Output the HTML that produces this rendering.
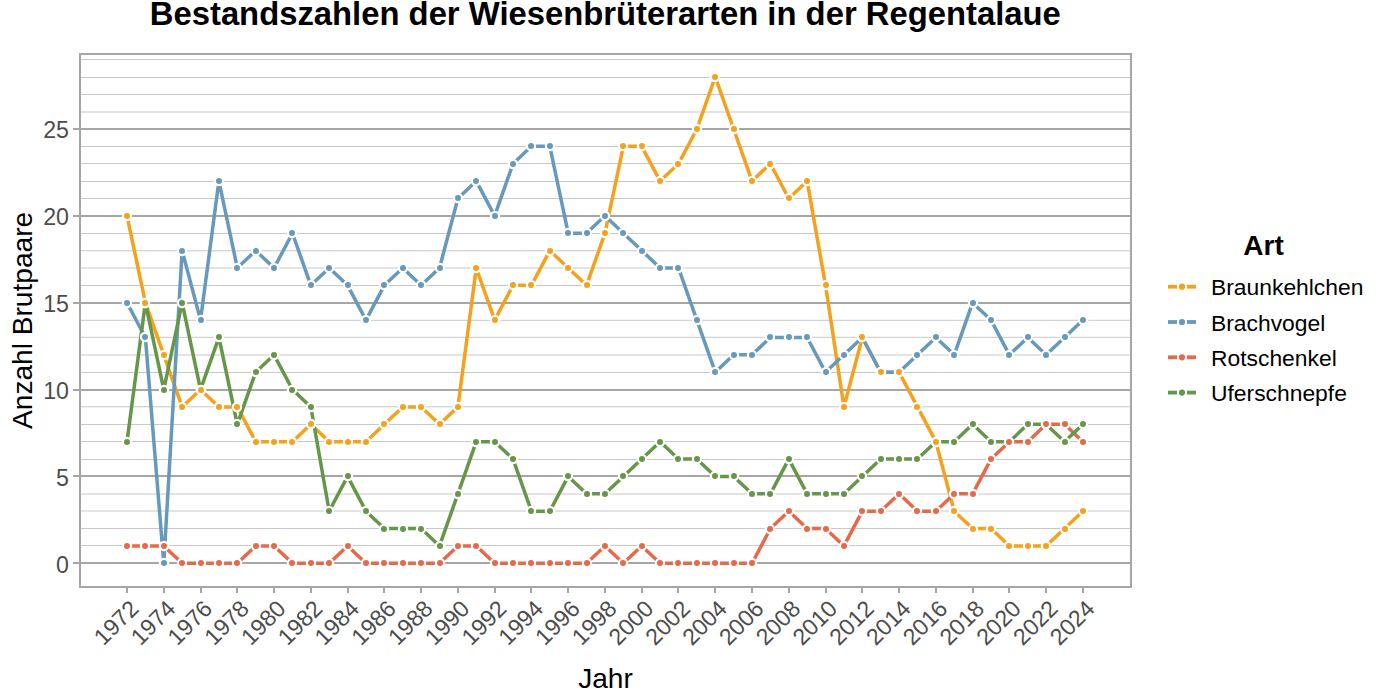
<!DOCTYPE html>
<html><head><meta charset="utf-8"><style>
html,body{margin:0;padding:0;background:#fff;}
svg{display:block;}
text{font-family:"Liberation Sans",sans-serif;}
.tick{font-size:23.2px;fill:#4D4D4D;}
.title{font-size:32.8px;font-weight:bold;fill:#000;}
.axt{font-size:28.1px;fill:#000;}
.legt{font-size:28px;font-weight:bold;fill:#000;}
.leg{font-size:22.85px;fill:#000;}
</style></head><body>
<svg width="1386" height="693" viewBox="0 0 1386 693">
<rect width="1386" height="693" fill="#fff"/>
<line x1="80" y1="545.5" x2="1131" y2="545.5" stroke="#C8C8C8" stroke-width="1"/>
<line x1="80" y1="528.5" x2="1131" y2="528.5" stroke="#C8C8C8" stroke-width="1"/>
<line x1="80" y1="511.0" x2="1131" y2="511.0" stroke="#C8C8C8" stroke-width="1"/>
<line x1="80" y1="494.0" x2="1131" y2="494.0" stroke="#C8C8C8" stroke-width="1"/>
<line x1="80" y1="459.5" x2="1131" y2="459.5" stroke="#C8C8C8" stroke-width="1"/>
<line x1="80" y1="441.5" x2="1131" y2="441.5" stroke="#C8C8C8" stroke-width="1"/>
<line x1="80" y1="424.5" x2="1131" y2="424.5" stroke="#C8C8C8" stroke-width="1"/>
<line x1="80" y1="406.8" x2="1131" y2="406.8" stroke="#C8C8C8" stroke-width="1"/>
<line x1="80" y1="372.5" x2="1131" y2="372.5" stroke="#C8C8C8" stroke-width="1"/>
<line x1="80" y1="355.0" x2="1131" y2="355.0" stroke="#C8C8C8" stroke-width="1"/>
<line x1="80" y1="337.3" x2="1131" y2="337.3" stroke="#C8C8C8" stroke-width="1"/>
<line x1="80" y1="320.3" x2="1131" y2="320.3" stroke="#C8C8C8" stroke-width="1"/>
<line x1="80" y1="285.5" x2="1131" y2="285.5" stroke="#C8C8C8" stroke-width="1"/>
<line x1="80" y1="268.0" x2="1131" y2="268.0" stroke="#C8C8C8" stroke-width="1"/>
<line x1="80" y1="250.8" x2="1131" y2="250.8" stroke="#C8C8C8" stroke-width="1"/>
<line x1="80" y1="233.5" x2="1131" y2="233.5" stroke="#C8C8C8" stroke-width="1"/>
<line x1="80" y1="198.5" x2="1131" y2="198.5" stroke="#C8C8C8" stroke-width="1"/>
<line x1="80" y1="181.5" x2="1131" y2="181.5" stroke="#C8C8C8" stroke-width="1"/>
<line x1="80" y1="163.5" x2="1131" y2="163.5" stroke="#C8C8C8" stroke-width="1"/>
<line x1="80" y1="146.5" x2="1131" y2="146.5" stroke="#C8C8C8" stroke-width="1"/>
<line x1="80" y1="112.0" x2="1131" y2="112.0" stroke="#C8C8C8" stroke-width="1"/>
<line x1="80" y1="94.5" x2="1131" y2="94.5" stroke="#C8C8C8" stroke-width="1"/>
<line x1="80" y1="77.5" x2="1131" y2="77.5" stroke="#C8C8C8" stroke-width="1"/>
<line x1="80" y1="59.5" x2="1131" y2="59.5" stroke="#C8C8C8" stroke-width="1"/>
<line x1="73" y1="563" x2="1131" y2="563" stroke="#A6A6A6" stroke-width="2"/>
<line x1="73" y1="476" x2="1131" y2="476" stroke="#A6A6A6" stroke-width="2"/>
<line x1="73" y1="390" x2="1131" y2="390" stroke="#A6A6A6" stroke-width="2"/>
<line x1="73" y1="303" x2="1131" y2="303" stroke="#A6A6A6" stroke-width="2"/>
<line x1="73" y1="216" x2="1131" y2="216" stroke="#A6A6A6" stroke-width="2"/>
<line x1="73" y1="129" x2="1131" y2="129" stroke="#A6A6A6" stroke-width="2"/>
<rect x="80" y="54" width="1051.00" height="533.00" fill="none" stroke="#A6A6A6" stroke-width="2"/>
<line x1="127" y1="587" x2="127" y2="593" stroke="#A6A6A6" stroke-width="2"/>
<line x1="164" y1="587" x2="164" y2="593" stroke="#A6A6A6" stroke-width="2"/>
<line x1="201" y1="587" x2="201" y2="593" stroke="#A6A6A6" stroke-width="2"/>
<line x1="237" y1="587" x2="237" y2="593" stroke="#A6A6A6" stroke-width="2"/>
<line x1="274" y1="587" x2="274" y2="593" stroke="#A6A6A6" stroke-width="2"/>
<line x1="311" y1="587" x2="311" y2="593" stroke="#A6A6A6" stroke-width="2"/>
<line x1="348" y1="587" x2="348" y2="593" stroke="#A6A6A6" stroke-width="2"/>
<line x1="384" y1="587" x2="384" y2="593" stroke="#A6A6A6" stroke-width="2"/>
<line x1="421" y1="587" x2="421" y2="593" stroke="#A6A6A6" stroke-width="2"/>
<line x1="458" y1="587" x2="458" y2="593" stroke="#A6A6A6" stroke-width="2"/>
<line x1="495" y1="587" x2="495" y2="593" stroke="#A6A6A6" stroke-width="2"/>
<line x1="531" y1="587" x2="531" y2="593" stroke="#A6A6A6" stroke-width="2"/>
<line x1="568" y1="587" x2="568" y2="593" stroke="#A6A6A6" stroke-width="2"/>
<line x1="605" y1="587" x2="605" y2="593" stroke="#A6A6A6" stroke-width="2"/>
<line x1="642" y1="587" x2="642" y2="593" stroke="#A6A6A6" stroke-width="2"/>
<line x1="678" y1="587" x2="678" y2="593" stroke="#A6A6A6" stroke-width="2"/>
<line x1="715" y1="587" x2="715" y2="593" stroke="#A6A6A6" stroke-width="2"/>
<line x1="752" y1="587" x2="752" y2="593" stroke="#A6A6A6" stroke-width="2"/>
<line x1="789" y1="587" x2="789" y2="593" stroke="#A6A6A6" stroke-width="2"/>
<line x1="826" y1="587" x2="826" y2="593" stroke="#A6A6A6" stroke-width="2"/>
<line x1="862" y1="587" x2="862" y2="593" stroke="#A6A6A6" stroke-width="2"/>
<line x1="899" y1="587" x2="899" y2="593" stroke="#A6A6A6" stroke-width="2"/>
<line x1="936" y1="587" x2="936" y2="593" stroke="#A6A6A6" stroke-width="2"/>
<line x1="973" y1="587" x2="973" y2="593" stroke="#A6A6A6" stroke-width="2"/>
<line x1="1009" y1="587" x2="1009" y2="593" stroke="#A6A6A6" stroke-width="2"/>
<line x1="1046" y1="587" x2="1046" y2="593" stroke="#A6A6A6" stroke-width="2"/>
<line x1="1083" y1="587" x2="1083" y2="593" stroke="#A6A6A6" stroke-width="2"/>
<text x="69" y="572.70" text-anchor="end" class="tick">0</text>
<text x="69" y="485.83" text-anchor="end" class="tick">5</text>
<text x="69" y="398.97" text-anchor="end" class="tick">10</text>
<text x="69" y="312.10" text-anchor="end" class="tick">15</text>
<text x="69" y="225.24" text-anchor="end" class="tick">20</text>
<text x="69" y="138.37" text-anchor="end" class="tick">25</text>
<text transform="translate(140.10,610) rotate(-45)" text-anchor="end" class="tick">1972</text>
<text transform="translate(176.87,610) rotate(-45)" text-anchor="end" class="tick">1974</text>
<text transform="translate(213.63,610) rotate(-45)" text-anchor="end" class="tick">1976</text>
<text transform="translate(250.40,610) rotate(-45)" text-anchor="end" class="tick">1978</text>
<text transform="translate(287.16,610) rotate(-45)" text-anchor="end" class="tick">1980</text>
<text transform="translate(323.93,610) rotate(-45)" text-anchor="end" class="tick">1982</text>
<text transform="translate(360.70,610) rotate(-45)" text-anchor="end" class="tick">1984</text>
<text transform="translate(397.46,610) rotate(-45)" text-anchor="end" class="tick">1986</text>
<text transform="translate(434.23,610) rotate(-45)" text-anchor="end" class="tick">1988</text>
<text transform="translate(470.99,610) rotate(-45)" text-anchor="end" class="tick">1990</text>
<text transform="translate(507.76,610) rotate(-45)" text-anchor="end" class="tick">1992</text>
<text transform="translate(544.53,610) rotate(-45)" text-anchor="end" class="tick">1994</text>
<text transform="translate(581.29,610) rotate(-45)" text-anchor="end" class="tick">1996</text>
<text transform="translate(618.06,610) rotate(-45)" text-anchor="end" class="tick">1998</text>
<text transform="translate(654.82,610) rotate(-45)" text-anchor="end" class="tick">2000</text>
<text transform="translate(691.59,610) rotate(-45)" text-anchor="end" class="tick">2002</text>
<text transform="translate(728.36,610) rotate(-45)" text-anchor="end" class="tick">2004</text>
<text transform="translate(765.12,610) rotate(-45)" text-anchor="end" class="tick">2006</text>
<text transform="translate(801.89,610) rotate(-45)" text-anchor="end" class="tick">2008</text>
<text transform="translate(838.65,610) rotate(-45)" text-anchor="end" class="tick">2010</text>
<text transform="translate(875.42,610) rotate(-45)" text-anchor="end" class="tick">2012</text>
<text transform="translate(912.19,610) rotate(-45)" text-anchor="end" class="tick">2014</text>
<text transform="translate(948.95,610) rotate(-45)" text-anchor="end" class="tick">2016</text>
<text transform="translate(985.72,610) rotate(-45)" text-anchor="end" class="tick">2018</text>
<text transform="translate(1022.48,610) rotate(-45)" text-anchor="end" class="tick">2020</text>
<text transform="translate(1059.25,610) rotate(-45)" text-anchor="end" class="tick">2022</text>
<text transform="translate(1096.02,610) rotate(-45)" text-anchor="end" class="tick">2024</text>
<polyline points="127.00,215.84 145.38,302.70 163.77,354.82 182.15,406.94 200.53,389.57 218.91,406.94 237.30,406.94 255.68,441.69 274.06,441.69 292.45,441.69 310.83,424.32 329.21,441.69 347.60,441.69 365.98,441.69 384.36,424.32 402.75,406.94 421.13,406.94 439.51,424.32 457.89,406.94 476.28,267.96 494.66,320.08 513.04,285.33 531.43,285.33 549.81,250.59 568.19,267.96 586.58,285.33 604.96,233.21 623.34,146.35 641.72,146.35 660.11,181.09 678.49,163.72 696.87,128.97 715.26,76.86 733.64,128.97 752.02,181.09 770.40,163.72 788.79,198.47 807.17,181.09 825.55,285.33 843.94,406.94 862.32,337.45 880.70,372.20 899.09,372.20 917.47,406.94 935.85,441.69 954.24,511.18 972.62,528.55 991.00,528.55 1009.38,545.93 1027.77,545.93 1046.15,545.93 1064.53,528.55 1082.92,511.18" fill="none" stroke="#F6A11C" stroke-width="3.5" stroke-linejoin="round"/>
<polyline points="127.00,302.70 145.38,337.45 163.77,563.30 182.15,250.59 200.53,320.08 218.91,181.09 237.30,267.96 255.68,250.59 274.06,267.96 292.45,233.21 310.83,285.33 329.21,267.96 347.60,285.33 365.98,320.08 384.36,285.33 402.75,267.96 421.13,285.33 439.51,267.96 457.89,198.47 476.28,181.09 494.66,215.84 513.04,163.72 531.43,146.35 549.81,146.35 568.19,233.21 586.58,233.21 604.96,215.84 623.34,233.21 641.72,250.59 660.11,267.96 678.49,267.96 696.87,320.08 715.26,372.20 733.64,354.82 752.02,354.82 770.40,337.45 788.79,337.45 807.17,337.45 825.55,372.20 843.94,354.82 862.32,337.45 880.70,372.20 899.09,372.20 917.47,354.82 935.85,337.45 954.24,354.82 972.62,302.70 991.00,320.08 1009.38,354.82 1027.77,337.45 1046.15,354.82 1064.53,337.45 1082.92,320.08" fill="none" stroke="#6699BC" stroke-width="3.5" stroke-linejoin="round"/>
<polyline points="127.00,545.93 145.38,545.93 163.77,545.93 182.15,563.30 200.53,563.30 218.91,563.30 237.30,563.30 255.68,545.93 274.06,545.93 292.45,563.30 310.83,563.30 329.21,563.30 347.60,545.93 365.98,563.30 384.36,563.30 402.75,563.30 421.13,563.30 439.51,563.30 457.89,545.93 476.28,545.93 494.66,563.30 513.04,563.30 531.43,563.30 549.81,563.30 568.19,563.30 586.58,563.30 604.96,545.93 623.34,563.30 641.72,545.93 660.11,563.30 678.49,563.30 696.87,563.30 715.26,563.30 733.64,563.30 752.02,563.30 770.40,528.55 788.79,511.18 807.17,528.55 825.55,528.55 843.94,545.93 862.32,511.18 880.70,511.18 899.09,493.81 917.47,511.18 935.85,511.18 954.24,493.81 972.62,493.81 991.00,459.06 1009.38,441.69 1027.77,441.69 1046.15,424.32 1064.53,424.32 1082.92,441.69" fill="none" stroke="#E5694A" stroke-width="3.5" stroke-linejoin="round"/>
<polyline points="127.00,441.69 145.38,302.70 163.77,389.57 182.15,302.70 200.53,389.57 218.91,337.45 237.30,424.32 255.68,372.20 274.06,354.82 292.45,389.57 310.83,406.94 329.21,511.18 347.60,476.43 365.98,511.18 384.36,528.55 402.75,528.55 421.13,528.55 439.51,545.93 457.89,493.81 476.28,441.69 494.66,441.69 513.04,459.06 531.43,511.18 549.81,511.18 568.19,476.43 586.58,493.81 604.96,493.81 623.34,476.43 641.72,459.06 660.11,441.69 678.49,459.06 696.87,459.06 715.26,476.43 733.64,476.43 752.02,493.81 770.40,493.81 788.79,459.06 807.17,493.81 825.55,493.81 843.94,493.81 862.32,476.43 880.70,459.06 899.09,459.06 917.47,459.06 935.85,441.69 954.24,441.69 972.62,424.32 991.00,441.69 1009.38,441.69 1027.77,424.32 1046.15,424.32 1064.53,441.69 1082.92,424.32" fill="none" stroke="#65964A" stroke-width="3.5" stroke-linejoin="round"/>
<circle cx="127" cy="442" r="4.1" fill="#65964A" stroke="#fff" stroke-width="2.2"/>
<circle cx="145" cy="303" r="4.1" fill="#65964A" stroke="#fff" stroke-width="2.2"/>
<circle cx="164" cy="390" r="4.1" fill="#65964A" stroke="#fff" stroke-width="2.2"/>
<circle cx="182" cy="303" r="4.1" fill="#65964A" stroke="#fff" stroke-width="2.2"/>
<circle cx="201" cy="390" r="4.1" fill="#65964A" stroke="#fff" stroke-width="2.2"/>
<circle cx="219" cy="337" r="4.1" fill="#65964A" stroke="#fff" stroke-width="2.2"/>
<circle cx="237" cy="424" r="4.1" fill="#65964A" stroke="#fff" stroke-width="2.2"/>
<circle cx="256" cy="372" r="4.1" fill="#65964A" stroke="#fff" stroke-width="2.2"/>
<circle cx="274" cy="355" r="4.1" fill="#65964A" stroke="#fff" stroke-width="2.2"/>
<circle cx="292" cy="390" r="4.1" fill="#65964A" stroke="#fff" stroke-width="2.2"/>
<circle cx="311" cy="407" r="4.1" fill="#65964A" stroke="#fff" stroke-width="2.2"/>
<circle cx="329" cy="511" r="4.1" fill="#65964A" stroke="#fff" stroke-width="2.2"/>
<circle cx="348" cy="476" r="4.1" fill="#65964A" stroke="#fff" stroke-width="2.2"/>
<circle cx="366" cy="511" r="4.1" fill="#65964A" stroke="#fff" stroke-width="2.2"/>
<circle cx="384" cy="529" r="4.1" fill="#65964A" stroke="#fff" stroke-width="2.2"/>
<circle cx="403" cy="529" r="4.1" fill="#65964A" stroke="#fff" stroke-width="2.2"/>
<circle cx="421" cy="529" r="4.1" fill="#65964A" stroke="#fff" stroke-width="2.2"/>
<circle cx="440" cy="546" r="4.1" fill="#65964A" stroke="#fff" stroke-width="2.2"/>
<circle cx="458" cy="494" r="4.1" fill="#65964A" stroke="#fff" stroke-width="2.2"/>
<circle cx="476" cy="442" r="4.1" fill="#65964A" stroke="#fff" stroke-width="2.2"/>
<circle cx="495" cy="442" r="4.1" fill="#65964A" stroke="#fff" stroke-width="2.2"/>
<circle cx="513" cy="459" r="4.1" fill="#65964A" stroke="#fff" stroke-width="2.2"/>
<circle cx="531" cy="511" r="4.1" fill="#65964A" stroke="#fff" stroke-width="2.2"/>
<circle cx="550" cy="511" r="4.1" fill="#65964A" stroke="#fff" stroke-width="2.2"/>
<circle cx="568" cy="476" r="4.1" fill="#65964A" stroke="#fff" stroke-width="2.2"/>
<circle cx="587" cy="494" r="4.1" fill="#65964A" stroke="#fff" stroke-width="2.2"/>
<circle cx="605" cy="494" r="4.1" fill="#65964A" stroke="#fff" stroke-width="2.2"/>
<circle cx="623" cy="476" r="4.1" fill="#65964A" stroke="#fff" stroke-width="2.2"/>
<circle cx="642" cy="459" r="4.1" fill="#65964A" stroke="#fff" stroke-width="2.2"/>
<circle cx="660" cy="442" r="4.1" fill="#65964A" stroke="#fff" stroke-width="2.2"/>
<circle cx="678" cy="459" r="4.1" fill="#65964A" stroke="#fff" stroke-width="2.2"/>
<circle cx="697" cy="459" r="4.1" fill="#65964A" stroke="#fff" stroke-width="2.2"/>
<circle cx="715" cy="476" r="4.1" fill="#65964A" stroke="#fff" stroke-width="2.2"/>
<circle cx="734" cy="476" r="4.1" fill="#65964A" stroke="#fff" stroke-width="2.2"/>
<circle cx="752" cy="494" r="4.1" fill="#65964A" stroke="#fff" stroke-width="2.2"/>
<circle cx="770" cy="494" r="4.1" fill="#65964A" stroke="#fff" stroke-width="2.2"/>
<circle cx="789" cy="459" r="4.1" fill="#65964A" stroke="#fff" stroke-width="2.2"/>
<circle cx="807" cy="494" r="4.1" fill="#65964A" stroke="#fff" stroke-width="2.2"/>
<circle cx="826" cy="494" r="4.1" fill="#65964A" stroke="#fff" stroke-width="2.2"/>
<circle cx="844" cy="494" r="4.1" fill="#65964A" stroke="#fff" stroke-width="2.2"/>
<circle cx="862" cy="476" r="4.1" fill="#65964A" stroke="#fff" stroke-width="2.2"/>
<circle cx="881" cy="459" r="4.1" fill="#65964A" stroke="#fff" stroke-width="2.2"/>
<circle cx="899" cy="459" r="4.1" fill="#65964A" stroke="#fff" stroke-width="2.2"/>
<circle cx="917" cy="459" r="4.1" fill="#65964A" stroke="#fff" stroke-width="2.2"/>
<circle cx="936" cy="442" r="4.1" fill="#65964A" stroke="#fff" stroke-width="2.2"/>
<circle cx="954" cy="442" r="4.1" fill="#65964A" stroke="#fff" stroke-width="2.2"/>
<circle cx="973" cy="424" r="4.1" fill="#65964A" stroke="#fff" stroke-width="2.2"/>
<circle cx="991" cy="442" r="4.1" fill="#65964A" stroke="#fff" stroke-width="2.2"/>
<circle cx="1009" cy="442" r="4.1" fill="#65964A" stroke="#fff" stroke-width="2.2"/>
<circle cx="1028" cy="424" r="4.1" fill="#65964A" stroke="#fff" stroke-width="2.2"/>
<circle cx="1046" cy="424" r="4.1" fill="#65964A" stroke="#fff" stroke-width="2.2"/>
<circle cx="1065" cy="442" r="4.1" fill="#65964A" stroke="#fff" stroke-width="2.2"/>
<circle cx="1083" cy="424" r="4.1" fill="#65964A" stroke="#fff" stroke-width="2.2"/>
<circle cx="127" cy="546" r="4.1" fill="#E5694A" stroke="#fff" stroke-width="2.2"/>
<circle cx="145" cy="546" r="4.1" fill="#E5694A" stroke="#fff" stroke-width="2.2"/>
<circle cx="164" cy="546" r="4.1" fill="#E5694A" stroke="#fff" stroke-width="2.2"/>
<circle cx="182" cy="563" r="4.1" fill="#E5694A" stroke="#fff" stroke-width="2.2"/>
<circle cx="201" cy="563" r="4.1" fill="#E5694A" stroke="#fff" stroke-width="2.2"/>
<circle cx="219" cy="563" r="4.1" fill="#E5694A" stroke="#fff" stroke-width="2.2"/>
<circle cx="237" cy="563" r="4.1" fill="#E5694A" stroke="#fff" stroke-width="2.2"/>
<circle cx="256" cy="546" r="4.1" fill="#E5694A" stroke="#fff" stroke-width="2.2"/>
<circle cx="274" cy="546" r="4.1" fill="#E5694A" stroke="#fff" stroke-width="2.2"/>
<circle cx="292" cy="563" r="4.1" fill="#E5694A" stroke="#fff" stroke-width="2.2"/>
<circle cx="311" cy="563" r="4.1" fill="#E5694A" stroke="#fff" stroke-width="2.2"/>
<circle cx="329" cy="563" r="4.1" fill="#E5694A" stroke="#fff" stroke-width="2.2"/>
<circle cx="348" cy="546" r="4.1" fill="#E5694A" stroke="#fff" stroke-width="2.2"/>
<circle cx="366" cy="563" r="4.1" fill="#E5694A" stroke="#fff" stroke-width="2.2"/>
<circle cx="384" cy="563" r="4.1" fill="#E5694A" stroke="#fff" stroke-width="2.2"/>
<circle cx="403" cy="563" r="4.1" fill="#E5694A" stroke="#fff" stroke-width="2.2"/>
<circle cx="421" cy="563" r="4.1" fill="#E5694A" stroke="#fff" stroke-width="2.2"/>
<circle cx="440" cy="563" r="4.1" fill="#E5694A" stroke="#fff" stroke-width="2.2"/>
<circle cx="458" cy="546" r="4.1" fill="#E5694A" stroke="#fff" stroke-width="2.2"/>
<circle cx="476" cy="546" r="4.1" fill="#E5694A" stroke="#fff" stroke-width="2.2"/>
<circle cx="495" cy="563" r="4.1" fill="#E5694A" stroke="#fff" stroke-width="2.2"/>
<circle cx="513" cy="563" r="4.1" fill="#E5694A" stroke="#fff" stroke-width="2.2"/>
<circle cx="531" cy="563" r="4.1" fill="#E5694A" stroke="#fff" stroke-width="2.2"/>
<circle cx="550" cy="563" r="4.1" fill="#E5694A" stroke="#fff" stroke-width="2.2"/>
<circle cx="568" cy="563" r="4.1" fill="#E5694A" stroke="#fff" stroke-width="2.2"/>
<circle cx="587" cy="563" r="4.1" fill="#E5694A" stroke="#fff" stroke-width="2.2"/>
<circle cx="605" cy="546" r="4.1" fill="#E5694A" stroke="#fff" stroke-width="2.2"/>
<circle cx="623" cy="563" r="4.1" fill="#E5694A" stroke="#fff" stroke-width="2.2"/>
<circle cx="642" cy="546" r="4.1" fill="#E5694A" stroke="#fff" stroke-width="2.2"/>
<circle cx="660" cy="563" r="4.1" fill="#E5694A" stroke="#fff" stroke-width="2.2"/>
<circle cx="678" cy="563" r="4.1" fill="#E5694A" stroke="#fff" stroke-width="2.2"/>
<circle cx="697" cy="563" r="4.1" fill="#E5694A" stroke="#fff" stroke-width="2.2"/>
<circle cx="715" cy="563" r="4.1" fill="#E5694A" stroke="#fff" stroke-width="2.2"/>
<circle cx="734" cy="563" r="4.1" fill="#E5694A" stroke="#fff" stroke-width="2.2"/>
<circle cx="752" cy="563" r="4.1" fill="#E5694A" stroke="#fff" stroke-width="2.2"/>
<circle cx="770" cy="529" r="4.1" fill="#E5694A" stroke="#fff" stroke-width="2.2"/>
<circle cx="789" cy="511" r="4.1" fill="#E5694A" stroke="#fff" stroke-width="2.2"/>
<circle cx="807" cy="529" r="4.1" fill="#E5694A" stroke="#fff" stroke-width="2.2"/>
<circle cx="826" cy="529" r="4.1" fill="#E5694A" stroke="#fff" stroke-width="2.2"/>
<circle cx="844" cy="546" r="4.1" fill="#E5694A" stroke="#fff" stroke-width="2.2"/>
<circle cx="862" cy="511" r="4.1" fill="#E5694A" stroke="#fff" stroke-width="2.2"/>
<circle cx="881" cy="511" r="4.1" fill="#E5694A" stroke="#fff" stroke-width="2.2"/>
<circle cx="899" cy="494" r="4.1" fill="#E5694A" stroke="#fff" stroke-width="2.2"/>
<circle cx="917" cy="511" r="4.1" fill="#E5694A" stroke="#fff" stroke-width="2.2"/>
<circle cx="936" cy="511" r="4.1" fill="#E5694A" stroke="#fff" stroke-width="2.2"/>
<circle cx="954" cy="494" r="4.1" fill="#E5694A" stroke="#fff" stroke-width="2.2"/>
<circle cx="973" cy="494" r="4.1" fill="#E5694A" stroke="#fff" stroke-width="2.2"/>
<circle cx="991" cy="459" r="4.1" fill="#E5694A" stroke="#fff" stroke-width="2.2"/>
<circle cx="1009" cy="442" r="4.1" fill="#E5694A" stroke="#fff" stroke-width="2.2"/>
<circle cx="1028" cy="442" r="4.1" fill="#E5694A" stroke="#fff" stroke-width="2.2"/>
<circle cx="1046" cy="424" r="4.1" fill="#E5694A" stroke="#fff" stroke-width="2.2"/>
<circle cx="1065" cy="424" r="4.1" fill="#E5694A" stroke="#fff" stroke-width="2.2"/>
<circle cx="1083" cy="442" r="4.1" fill="#E5694A" stroke="#fff" stroke-width="2.2"/>
<circle cx="127" cy="303" r="4.1" fill="#6699BC" stroke="#fff" stroke-width="2.2"/>
<circle cx="145" cy="337" r="4.1" fill="#6699BC" stroke="#fff" stroke-width="2.2"/>
<circle cx="164" cy="563" r="4.1" fill="#6699BC" stroke="#fff" stroke-width="2.2"/>
<circle cx="182" cy="251" r="4.1" fill="#6699BC" stroke="#fff" stroke-width="2.2"/>
<circle cx="201" cy="320" r="4.1" fill="#6699BC" stroke="#fff" stroke-width="2.2"/>
<circle cx="219" cy="181" r="4.1" fill="#6699BC" stroke="#fff" stroke-width="2.2"/>
<circle cx="237" cy="268" r="4.1" fill="#6699BC" stroke="#fff" stroke-width="2.2"/>
<circle cx="256" cy="251" r="4.1" fill="#6699BC" stroke="#fff" stroke-width="2.2"/>
<circle cx="274" cy="268" r="4.1" fill="#6699BC" stroke="#fff" stroke-width="2.2"/>
<circle cx="292" cy="233" r="4.1" fill="#6699BC" stroke="#fff" stroke-width="2.2"/>
<circle cx="311" cy="285" r="4.1" fill="#6699BC" stroke="#fff" stroke-width="2.2"/>
<circle cx="329" cy="268" r="4.1" fill="#6699BC" stroke="#fff" stroke-width="2.2"/>
<circle cx="348" cy="285" r="4.1" fill="#6699BC" stroke="#fff" stroke-width="2.2"/>
<circle cx="366" cy="320" r="4.1" fill="#6699BC" stroke="#fff" stroke-width="2.2"/>
<circle cx="384" cy="285" r="4.1" fill="#6699BC" stroke="#fff" stroke-width="2.2"/>
<circle cx="403" cy="268" r="4.1" fill="#6699BC" stroke="#fff" stroke-width="2.2"/>
<circle cx="421" cy="285" r="4.1" fill="#6699BC" stroke="#fff" stroke-width="2.2"/>
<circle cx="440" cy="268" r="4.1" fill="#6699BC" stroke="#fff" stroke-width="2.2"/>
<circle cx="458" cy="198" r="4.1" fill="#6699BC" stroke="#fff" stroke-width="2.2"/>
<circle cx="476" cy="181" r="4.1" fill="#6699BC" stroke="#fff" stroke-width="2.2"/>
<circle cx="495" cy="216" r="4.1" fill="#6699BC" stroke="#fff" stroke-width="2.2"/>
<circle cx="513" cy="164" r="4.1" fill="#6699BC" stroke="#fff" stroke-width="2.2"/>
<circle cx="531" cy="146" r="4.1" fill="#6699BC" stroke="#fff" stroke-width="2.2"/>
<circle cx="550" cy="146" r="4.1" fill="#6699BC" stroke="#fff" stroke-width="2.2"/>
<circle cx="568" cy="233" r="4.1" fill="#6699BC" stroke="#fff" stroke-width="2.2"/>
<circle cx="587" cy="233" r="4.1" fill="#6699BC" stroke="#fff" stroke-width="2.2"/>
<circle cx="605" cy="216" r="4.1" fill="#6699BC" stroke="#fff" stroke-width="2.2"/>
<circle cx="623" cy="233" r="4.1" fill="#6699BC" stroke="#fff" stroke-width="2.2"/>
<circle cx="642" cy="251" r="4.1" fill="#6699BC" stroke="#fff" stroke-width="2.2"/>
<circle cx="660" cy="268" r="4.1" fill="#6699BC" stroke="#fff" stroke-width="2.2"/>
<circle cx="678" cy="268" r="4.1" fill="#6699BC" stroke="#fff" stroke-width="2.2"/>
<circle cx="697" cy="320" r="4.1" fill="#6699BC" stroke="#fff" stroke-width="2.2"/>
<circle cx="715" cy="372" r="4.1" fill="#6699BC" stroke="#fff" stroke-width="2.2"/>
<circle cx="734" cy="355" r="4.1" fill="#6699BC" stroke="#fff" stroke-width="2.2"/>
<circle cx="752" cy="355" r="4.1" fill="#6699BC" stroke="#fff" stroke-width="2.2"/>
<circle cx="770" cy="337" r="4.1" fill="#6699BC" stroke="#fff" stroke-width="2.2"/>
<circle cx="789" cy="337" r="4.1" fill="#6699BC" stroke="#fff" stroke-width="2.2"/>
<circle cx="807" cy="337" r="4.1" fill="#6699BC" stroke="#fff" stroke-width="2.2"/>
<circle cx="826" cy="372" r="4.1" fill="#6699BC" stroke="#fff" stroke-width="2.2"/>
<circle cx="844" cy="355" r="4.1" fill="#6699BC" stroke="#fff" stroke-width="2.2"/>
<circle cx="862" cy="337" r="4.1" fill="#6699BC" stroke="#fff" stroke-width="2.2"/>
<circle cx="881" cy="372" r="4.1" fill="#6699BC" stroke="#fff" stroke-width="2.2"/>
<circle cx="899" cy="372" r="4.1" fill="#6699BC" stroke="#fff" stroke-width="2.2"/>
<circle cx="917" cy="355" r="4.1" fill="#6699BC" stroke="#fff" stroke-width="2.2"/>
<circle cx="936" cy="337" r="4.1" fill="#6699BC" stroke="#fff" stroke-width="2.2"/>
<circle cx="954" cy="355" r="4.1" fill="#6699BC" stroke="#fff" stroke-width="2.2"/>
<circle cx="973" cy="303" r="4.1" fill="#6699BC" stroke="#fff" stroke-width="2.2"/>
<circle cx="991" cy="320" r="4.1" fill="#6699BC" stroke="#fff" stroke-width="2.2"/>
<circle cx="1009" cy="355" r="4.1" fill="#6699BC" stroke="#fff" stroke-width="2.2"/>
<circle cx="1028" cy="337" r="4.1" fill="#6699BC" stroke="#fff" stroke-width="2.2"/>
<circle cx="1046" cy="355" r="4.1" fill="#6699BC" stroke="#fff" stroke-width="2.2"/>
<circle cx="1065" cy="337" r="4.1" fill="#6699BC" stroke="#fff" stroke-width="2.2"/>
<circle cx="1083" cy="320" r="4.1" fill="#6699BC" stroke="#fff" stroke-width="2.2"/>
<circle cx="127" cy="216" r="4.1" fill="#F6A11C" stroke="#fff" stroke-width="2.2"/>
<circle cx="145" cy="303" r="4.1" fill="#F6A11C" stroke="#fff" stroke-width="2.2"/>
<circle cx="164" cy="355" r="4.1" fill="#F6A11C" stroke="#fff" stroke-width="2.2"/>
<circle cx="182" cy="407" r="4.1" fill="#F6A11C" stroke="#fff" stroke-width="2.2"/>
<circle cx="201" cy="390" r="4.1" fill="#F6A11C" stroke="#fff" stroke-width="2.2"/>
<circle cx="219" cy="407" r="4.1" fill="#F6A11C" stroke="#fff" stroke-width="2.2"/>
<circle cx="237" cy="407" r="4.1" fill="#F6A11C" stroke="#fff" stroke-width="2.2"/>
<circle cx="256" cy="442" r="4.1" fill="#F6A11C" stroke="#fff" stroke-width="2.2"/>
<circle cx="274" cy="442" r="4.1" fill="#F6A11C" stroke="#fff" stroke-width="2.2"/>
<circle cx="292" cy="442" r="4.1" fill="#F6A11C" stroke="#fff" stroke-width="2.2"/>
<circle cx="311" cy="424" r="4.1" fill="#F6A11C" stroke="#fff" stroke-width="2.2"/>
<circle cx="329" cy="442" r="4.1" fill="#F6A11C" stroke="#fff" stroke-width="2.2"/>
<circle cx="348" cy="442" r="4.1" fill="#F6A11C" stroke="#fff" stroke-width="2.2"/>
<circle cx="366" cy="442" r="4.1" fill="#F6A11C" stroke="#fff" stroke-width="2.2"/>
<circle cx="384" cy="424" r="4.1" fill="#F6A11C" stroke="#fff" stroke-width="2.2"/>
<circle cx="403" cy="407" r="4.1" fill="#F6A11C" stroke="#fff" stroke-width="2.2"/>
<circle cx="421" cy="407" r="4.1" fill="#F6A11C" stroke="#fff" stroke-width="2.2"/>
<circle cx="440" cy="424" r="4.1" fill="#F6A11C" stroke="#fff" stroke-width="2.2"/>
<circle cx="458" cy="407" r="4.1" fill="#F6A11C" stroke="#fff" stroke-width="2.2"/>
<circle cx="476" cy="268" r="4.1" fill="#F6A11C" stroke="#fff" stroke-width="2.2"/>
<circle cx="495" cy="320" r="4.1" fill="#F6A11C" stroke="#fff" stroke-width="2.2"/>
<circle cx="513" cy="285" r="4.1" fill="#F6A11C" stroke="#fff" stroke-width="2.2"/>
<circle cx="531" cy="285" r="4.1" fill="#F6A11C" stroke="#fff" stroke-width="2.2"/>
<circle cx="550" cy="251" r="4.1" fill="#F6A11C" stroke="#fff" stroke-width="2.2"/>
<circle cx="568" cy="268" r="4.1" fill="#F6A11C" stroke="#fff" stroke-width="2.2"/>
<circle cx="587" cy="285" r="4.1" fill="#F6A11C" stroke="#fff" stroke-width="2.2"/>
<circle cx="605" cy="233" r="4.1" fill="#F6A11C" stroke="#fff" stroke-width="2.2"/>
<circle cx="623" cy="146" r="4.1" fill="#F6A11C" stroke="#fff" stroke-width="2.2"/>
<circle cx="642" cy="146" r="4.1" fill="#F6A11C" stroke="#fff" stroke-width="2.2"/>
<circle cx="660" cy="181" r="4.1" fill="#F6A11C" stroke="#fff" stroke-width="2.2"/>
<circle cx="678" cy="164" r="4.1" fill="#F6A11C" stroke="#fff" stroke-width="2.2"/>
<circle cx="697" cy="129" r="4.1" fill="#F6A11C" stroke="#fff" stroke-width="2.2"/>
<circle cx="715" cy="77" r="4.1" fill="#F6A11C" stroke="#fff" stroke-width="2.2"/>
<circle cx="734" cy="129" r="4.1" fill="#F6A11C" stroke="#fff" stroke-width="2.2"/>
<circle cx="752" cy="181" r="4.1" fill="#F6A11C" stroke="#fff" stroke-width="2.2"/>
<circle cx="770" cy="164" r="4.1" fill="#F6A11C" stroke="#fff" stroke-width="2.2"/>
<circle cx="789" cy="198" r="4.1" fill="#F6A11C" stroke="#fff" stroke-width="2.2"/>
<circle cx="807" cy="181" r="4.1" fill="#F6A11C" stroke="#fff" stroke-width="2.2"/>
<circle cx="826" cy="285" r="4.1" fill="#F6A11C" stroke="#fff" stroke-width="2.2"/>
<circle cx="844" cy="407" r="4.1" fill="#F6A11C" stroke="#fff" stroke-width="2.2"/>
<circle cx="862" cy="337" r="4.1" fill="#F6A11C" stroke="#fff" stroke-width="2.2"/>
<circle cx="881" cy="372" r="4.1" fill="#F6A11C" stroke="#fff" stroke-width="2.2"/>
<circle cx="899" cy="372" r="4.1" fill="#F6A11C" stroke="#fff" stroke-width="2.2"/>
<circle cx="917" cy="407" r="4.1" fill="#F6A11C" stroke="#fff" stroke-width="2.2"/>
<circle cx="936" cy="442" r="4.1" fill="#F6A11C" stroke="#fff" stroke-width="2.2"/>
<circle cx="954" cy="511" r="4.1" fill="#F6A11C" stroke="#fff" stroke-width="2.2"/>
<circle cx="973" cy="529" r="4.1" fill="#F6A11C" stroke="#fff" stroke-width="2.2"/>
<circle cx="991" cy="529" r="4.1" fill="#F6A11C" stroke="#fff" stroke-width="2.2"/>
<circle cx="1009" cy="546" r="4.1" fill="#F6A11C" stroke="#fff" stroke-width="2.2"/>
<circle cx="1028" cy="546" r="4.1" fill="#F6A11C" stroke="#fff" stroke-width="2.2"/>
<circle cx="1046" cy="546" r="4.1" fill="#F6A11C" stroke="#fff" stroke-width="2.2"/>
<circle cx="1065" cy="529" r="4.1" fill="#F6A11C" stroke="#fff" stroke-width="2.2"/>
<circle cx="1083" cy="511" r="4.1" fill="#F6A11C" stroke="#fff" stroke-width="2.2"/>
<text x="605.3" y="25" text-anchor="middle" class="title">Bestandszahlen der Wiesenbrüterarten in der Regentalaue</text>
<text transform="translate(31.8,320.4) rotate(-90)" text-anchor="middle" class="axt">Anzahl Brutpaare</text>
<text x="605.5" y="688" text-anchor="middle" class="axt">Jahr</text>
<text x="1263.5" y="254.6" text-anchor="middle" class="legt">Art</text>
<line x1="1168" y1="286.7" x2="1196" y2="286.7" stroke="#F6A11C" stroke-width="3.8"/>
<circle cx="1182" cy="286.7" r="4.1" fill="#F6A11C" stroke="#fff" stroke-width="2.0"/>
<text x="1211" y="295.40" class="leg">Braunkehlchen</text>
<line x1="1168" y1="322.0" x2="1196" y2="322.0" stroke="#6699BC" stroke-width="3.8"/>
<circle cx="1182" cy="322.0" r="4.1" fill="#6699BC" stroke="#fff" stroke-width="2.0"/>
<text x="1211" y="330.70" class="leg">Brachvogel</text>
<line x1="1168" y1="357.3" x2="1196" y2="357.3" stroke="#E5694A" stroke-width="3.8"/>
<circle cx="1182" cy="357.3" r="4.1" fill="#E5694A" stroke="#fff" stroke-width="2.0"/>
<text x="1211" y="366.00" class="leg">Rotschenkel</text>
<line x1="1168" y1="392.6" x2="1196" y2="392.6" stroke="#65964A" stroke-width="3.8"/>
<circle cx="1182" cy="392.6" r="4.1" fill="#65964A" stroke="#fff" stroke-width="2.0"/>
<text x="1211" y="401.30" class="leg">Uferschnepfe</text>
</svg>
</body></html>
